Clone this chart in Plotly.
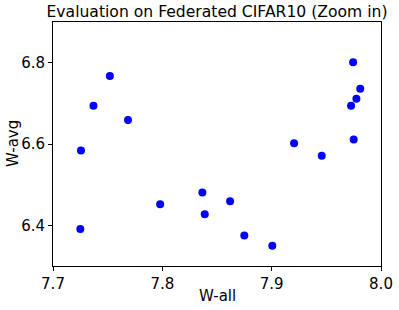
import plotly.graph_objects as go

w_all = [7.725, 7.7256, 7.737, 7.752, 7.7686, 7.798, 7.8366, 7.8388, 7.862, 7.875,
         7.9006, 7.9205, 7.9458, 7.9745, 7.981, 7.9775, 7.9726, 7.975]
w_avg = [6.391, 6.584, 6.694, 6.767, 6.659, 6.452, 6.481, 6.427, 6.459, 6.375,
         6.350, 6.602, 6.571, 6.801, 6.736, 6.711, 6.694, 6.611]

x_ticks = [7.7, 7.8, 7.9, 8.0]
x_labels = ["7.7", "7.8", "7.9", "8.0"]
y_ticks = [6.4, 6.6, 6.8]
y_labels = ["6.4", "6.6", "6.8"]

W, H = 399, 310
ML, MR, MT, MB = 53, 18, 22, 44
PW, PH = W - ML - MR, H - MT - MB

fig = go.Figure(go.Scatter(
    x=w_all, y=w_avg, mode="markers",
    marker=dict(color="#0000ff", size=8, line=dict(width=0)),
    cliponaxis=False,
))

axis_common = dict(
    showline=True, linecolor="black", linewidth=1, mirror=True,
    ticks="outside", ticklen=4, tickcolor="black", tickwidth=1,
    showgrid=False, zeroline=False, automargin=False,
    tickfont=dict(family="DejaVu Sans", size=15, color="black"),
)

label_font = dict(family="DejaVu Sans", size=15, color="black")

fig.update_layout(
    width=W, height=H,
    margin=dict(l=ML, r=MR, t=MT, b=MB, autoexpand=False),
    paper_bgcolor="white", plot_bgcolor="white",
    showlegend=False,
    title=dict(text="Evaluation on Federated CIFAR10 (Zoom in)",
               x=0.5, xanchor="center", xref="paper",
               y=1 - 12 / H, yanchor="middle", yref="container",
               automargin=False,
               font=dict(family="DejaVu Sans", size=15.6, color="black")),
    xaxis=dict(range=[7.7, 8.0], tickvals=x_ticks, ticktext=x_labels, **axis_common),
    yaxis=dict(range=[6.3, 6.9], tickvals=y_ticks, ticktext=y_labels, **axis_common),
    annotations=[
        dict(text="W-all", xref="paper", yref="paper",
             x=(217 - ML) / PW, y=-(295.5 - (H - MB)) / PH,
             xanchor="center", yanchor="middle", showarrow=False, font=label_font),
        dict(text="W-avg", xref="paper", yref="paper",
             x=-(ML - 13) / PW, y=0.5, textangle=-90,
             xanchor="center", yanchor="middle", showarrow=False, font=label_font),
    ],
)

fig.write_html(
    "out.html",
    config={"displayModeBar": False},
    post_script="document.body.style.margin='0';document.body.style.padding='0';",
)
